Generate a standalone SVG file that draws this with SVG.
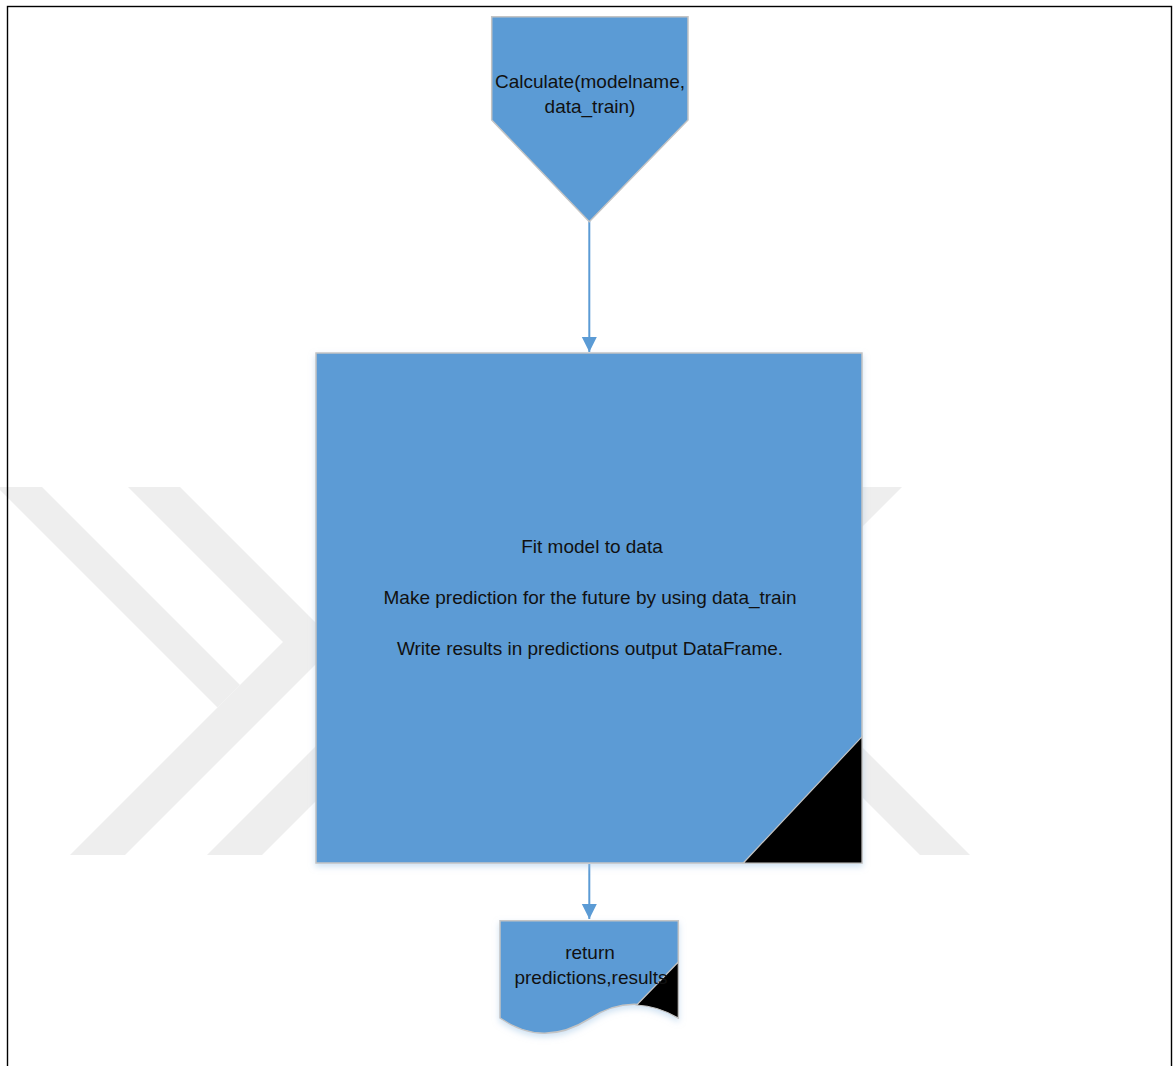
<svg xmlns="http://www.w3.org/2000/svg" width="1173" height="1066" viewBox="0 0 1173 1066">
  <defs>
    <style>
      .wm { fill: #eeeeee; }
      .shape { fill: #5b9bd5; stroke: #c4c4c4; stroke-width: 1.5; }
      .fold { fill: #000000; stroke: #c4c4c4; stroke-width: 1.2; }
      .lbl { font-family: "Liberation Sans", Arial, sans-serif; font-size: 19px; fill: #111111; text-anchor: middle; }
      .conn { stroke: #5b9bd5; stroke-width: 2; fill: none; }
    </style>
    <marker id="arrow" markerWidth="16" markerHeight="16" viewBox="0 0 16 16" refX="15" refY="8" orient="auto" markerUnits="userSpaceOnUse">
      <path d="M0,0.5 L15,8 L0,15.5 Z" fill="#5b9bd5"/>
    </marker>
    <filter id="glow" x="-10%" y="-10%" width="120%" height="130%">
      <feDropShadow dx="0" dy="3" stdDeviation="3" flood-color="#9dc3e6" flood-opacity="0.5"/>
    </filter>
    <clipPath id="wmclip">
      <rect x="0" y="487" width="1000" height="368"/>
    </clipPath>
  </defs>

  <rect x="0" y="0" width="1173" height="1066" fill="#ffffff"/>

  <!-- watermark -->
  <g id="watermark" clip-path="url(#wmclip)">
    <polygon class="wm" points="-3,487 42,487 240,685 217.5,707.5"/>
    <polygon class="wm" points="128,487 180,487 336.5,643.5 125,855 70,855 283,642"/>
    <polygon class="wm" points="207,855 262,855 600,517 545,517"/>
    <polygon class="wm" points="852,487 902,487 700,689 650,689"/>
    <polygon class="wm" points="920,855 970,855 700,585 650,585"/>
  </g>

  <!-- page border -->
  <rect id="page-border" x="7.5" y="6.5" width="1164" height="1100" fill="none" stroke="#000000" stroke-width="1.4"/>

  <!-- connectors -->
  <g id="connectors">
    <line class="conn" x1="589.3" y1="221" x2="589.3" y2="352" marker-end="url(#arrow)"/>
    <line class="conn" x1="589.3" y1="864" x2="589.3" y2="919" marker-end="url(#arrow)"/>
  </g>

  <!-- start: off-page connector -->
  <g id="node-calculate">
    <polygon class="shape" points="491.7,16.7 688,16.7 688,120 589.3,221.7 491.7,120"/>
    <text class="lbl" x="590" y="88" font-size="18.5">Calculate(modelname,</text>
    <text class="lbl" x="590" y="113" font-size="18.5">data_train)</text>
  </g>

  <!-- process box -->
  <g id="node-process">
    <rect class="shape" x="316" y="353" width="546" height="510" filter="url(#glow)"/>
    <polygon class="fold" points="862,736.7 862,863 743.3,863"/>
    <text class="lbl" x="592" y="553">Fit model to data</text>
    <text class="lbl" x="590" y="604">Make prediction for the future by using data_train</text>
    <text class="lbl" x="590" y="655">Write results in predictions output DataFrame.</text>
  </g>

  <!-- document -->
  <g id="node-return">
    <path class="shape" filter="url(#glow)" d="M500,920.7 H678.3 V1018 Q633,990 589,1019 Q543,1048 500,1018 Z"/>
    <path class="fold" d="M678.3,962 L636.7,1005 Q658,1006 678.3,1018 Z"/>
    <text class="lbl" x="590" y="959">return</text>
    <text class="lbl" x="591" y="984">predictions,results</text>
  </g>
</svg>
